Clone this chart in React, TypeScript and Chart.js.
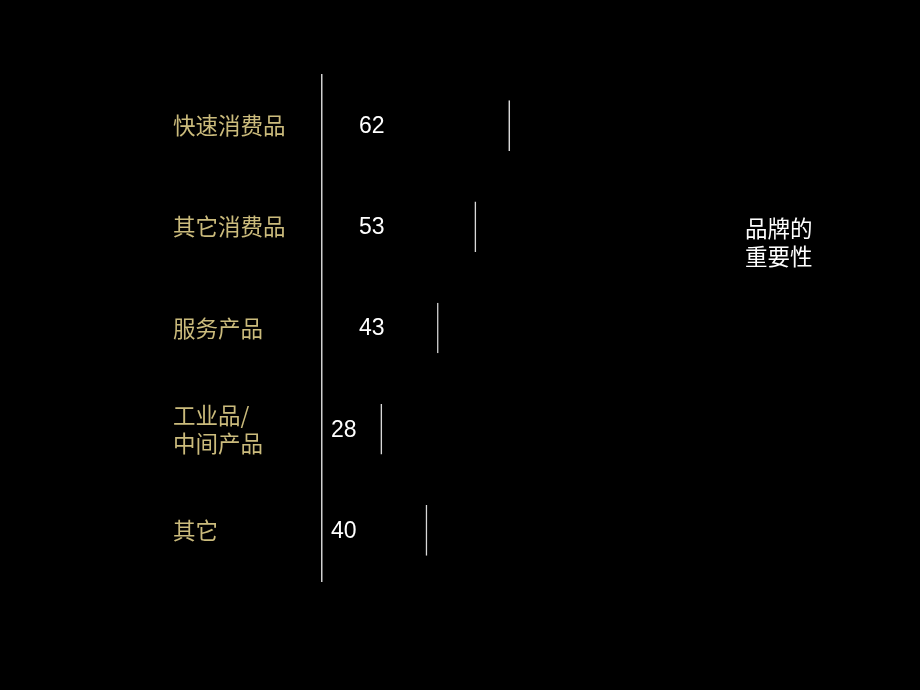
import React, { useEffect, useRef } from 'react';
import { Chart, registerables } from 'chart.js';

Chart.register(...registerables);

const categories: (string | string[])[] = ['快速消费品', '其它消费品', '服务产品', ['工业品/', '中间产品'], '其它'];
const brandImportance = [62, 53, 43, 28, 40];
const seriesName = ['品牌的', '重要性'];

const gold = '#cbbb7c';
const cjkFont = '"Noto Sans CJK SC", "Noto Sans", sans-serif';

// draws the value next to each bar and the series caption on the right
const labelPlugin = {
    id: 'valueLabels',
    afterDatasetsDraw(chart: Chart) {
        const { ctx, chartArea } = chart;
        const meta = chart.getDatasetMeta(0);
        ctx.save();
        ctx.fillStyle = '#ffffff';
        ctx.font = '23px "Liberation Sans", Arial, sans-serif';
        ctx.textBaseline = 'middle';
        ctx.textAlign = 'left';
        meta.data.forEach((bar: any, i: number) => {
            const len = bar.x - chartArea.left;
            const offset = len > 115 ? 37 : 9;
            ctx.fillText(String(brandImportance[i]), chartArea.left + offset, bar.y + 1);
        });
        ctx.font = `22.5px ${cjkFont}`;
        ctx.fillText(seriesName[0], 745, 228);
        ctx.fillText(seriesName[1], 745, 256);
        ctx.restore();
    },
};

const App: React.FC = () => {
    const canvasRef = useRef<HTMLCanvasElement>(null);

    useEffect(() => {
        if (!canvasRef.current) return;
        const chart = new Chart(canvasRef.current, {
            type: 'bar',
            data: {
                labels: categories,
                datasets: [{
                    label: seriesName.join(''),
                    data: brandImportance,
                    backgroundColor: 'rgba(0,0,0,0)',
                    borderColor: '#d8d8d8',
                    borderWidth: { top: 0, bottom: 0, left: 0, right: 1.5 },
                    borderSkipped: false,
                    barPercentage: 0.5,
                    categoryPercentage: 1,
                }],
            },
            options: {
                indexAxis: 'y',
                animation: false,
                responsive: false,
                maintainAspectRatio: false,
                layout: { padding: { left: 173, top: 75, bottom: 109, right: 267 } },
                plugins: {
                    legend: { display: false },
                    tooltip: { enabled: false },
                },
                scales: {
                    x: {
                        display: false,
                        min: 12,
                        max: 100,
                    },
                    y: {
                        grid: { display: false, drawTicks: false },
                        border: { display: true, color: '#d0d0d0', width: 1.5 },
                        afterFit: (scale: any) => { scale.width = 149; },
                        ticks: {
                            crossAlign: 'far',
                            color: gold,
                            font: { family: cjkFont, size: 22.5, lineHeight: 1.25 },
                        },
                    },
                },
            },
            plugins: [labelPlugin],
        });
        return () => chart.destroy();
    }, []);

    return (
        <div style={{ position: 'fixed', left: 0, top: 0, width: 920, height: 690, background: '#000' }}>
            <canvas ref={canvasRef} width={920} height={690} style={{ width: 920, height: 690 }} />
        </div>
    );
};

export default App;
